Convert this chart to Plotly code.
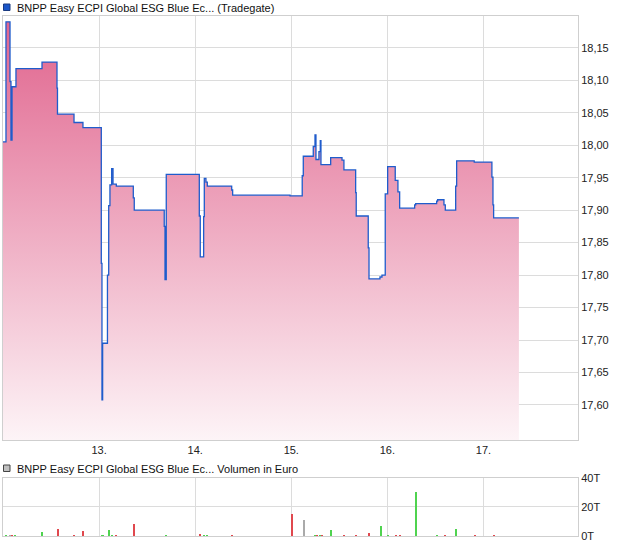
import plotly.graph_objects as go

# ---- price series (day-of-month as decimal, price in EUR), step line ----
price_t = [12.000, 12.031, 12.073, 12.083, 12.094, 12.135, 12.406, 12.562, 12.567,
           12.739, 12.832, 13.023, 13.030, 13.037, 13.087, 13.100, 13.113, 13.131,
           13.145, 13.179, 13.356, 13.366, 13.678, 13.686, 13.699, 14.043, 14.053,
           14.088, 14.095, 14.112, 14.126, 14.380, 14.390, 14.987, 15.114, 15.125,
           15.229, 15.247, 15.257, 15.288, 15.302, 15.309, 15.410, 15.528, 15.548,
           15.670, 15.676, 15.801, 15.809, 15.923, 15.944, 15.978, 16.003, 16.082,
           16.110, 16.128, 16.284, 16.295, 16.513, 16.523, 16.589, 16.603, 16.711,
           16.721, 16.904, 17.088, 17.099, 17.106, 17.369]
price_v = [18.005, 18.190, 18.098, 18.008, 18.090, 18.118, 18.128, 18.088, 18.048,
           18.035, 18.027, 17.818, 17.608, 17.695, 17.800, 17.907, 17.939, 17.964,
           17.940, 17.937, 17.919, 17.900, 17.875, 17.793, 17.955, 17.891, 17.828,
           17.890, 17.949, 17.943, 17.937, 17.931, 17.923, 17.922, 17.953, 17.983,
           17.998, 18.016, 17.978, 17.990, 18.007, 17.970, 17.981, 17.977, 17.962,
           17.927, 17.891, 17.842, 17.794, 17.797, 17.800, 17.925, 17.967, 17.946,
           17.928, 17.903, 17.908, 17.910, 17.914, 17.916, 17.908, 17.900, 17.937,
           17.976, 17.974, 17.951, 17.908, 17.888, 17.888]

# ---- volume series (EUR) ----
vol_t = [12.031, 12.073, 12.094, 12.125, 12.406, 12.569, 12.739, 12.832, 13.027,
         13.041, 13.100, 13.134, 13.173, 13.366, 13.696, 14.050, 14.092, 14.123,
         14.386, 15.004, 15.132, 15.244, 15.264, 15.302, 15.319, 15.416, 15.552,
         15.676, 15.812, 15.937, 16.003, 16.093, 16.134, 16.295, 16.519, 16.603,
         16.717, 16.915, 17.112]
vol_v = [1000, 700, 500, 600, 2700, 4800, 800, 3400, 800,
         600, 4100, 600, 1000, 8700, 700, 1400, 600, 500,
         700, 15100, 11000, 700, 500, 600, 1100, 4100, 700,
         700, 2000, 6900, 400, 600, 500, 30200, 400, 500,
         4800, 500, 500]
vol_dir = ["up", "flat", "down", "up", "up", "down", "down", "down", "up",
           "up", "up", "up", "down", "down", "up", "down", "up", "up",
           "down", "down", "flat", "up", "down", "up", "down", "up", "down",
           "down", "down", "up", "up", "down", "down", "up", "up", "down",
           "up", "down", "down"]

x_ticks = [13, 14, 15, 16, 17]
x_tick_labels = ["13.", "14.", "15.", "16.", "17."]
y_ticks = [17.60, 17.65, 17.70, 17.75, 17.80, 17.85, 17.90, 17.95, 18.00, 18.05, 18.10, 18.15]
vol_ticks = [0, 20000, 40000]
vol_tick_labels = ["0T", "20T", "40T"]

price_name = "BNPP Easy ECPI Global ESG Blue Ec... (Tradegate)"
vol_name = "BNPP Easy ECPI Global ESG Blue Ec... Volumen in Euro"

W, H = 620, 546
ML, MR, MT, MB = 3, 42, 16, 10
PW, PH = W - ML - MR, H - MT - MB


def px_x(px):
    return (px - ML) / PW


def px_y(py):
    return (H - MB - py) / PH


dir_colors = {"up": "#4fd34f", "down": "#e0484e", "flat": "#aaaaaa"}

fig = go.Figure()
fig.add_trace(go.Scatter(
    x=price_t, y=price_v, mode="lines",
    line=dict(color="#1f5ccc", width=1.3, shape="hv"),
    fill="tozeroy",
    fillgradient=dict(type="vertical",
                      colorscale=[[0, "#fdf4f7"], [1, "#e0628c"]],
                      start=17.546, stop=18.2),
    xaxis="x", yaxis="y", hoverinfo="skip", showlegend=False))

fig.add_trace(go.Bar(
    x=vol_t, y=vol_v, width=0.011,
    marker=dict(color=[dir_colors[d] for d in vol_dir], line=dict(width=0)),
    xaxis="x2", yaxis="y2", showlegend=False, hoverinfo="skip"))

grid = "#dcdcdc"
border = "#cfcfcf"
tickfont = dict(family="Liberation Sans, Arial, sans-serif", size=11, color="#222222")

common_x = dict(range=[12.0, 17.984], tickvals=x_ticks, ticktext=x_tick_labels,
                showgrid=True, gridcolor=grid, gridwidth=1, showline=True,
                linecolor=border, linewidth=1, mirror=True, ticks="",
                zeroline=False, tickfont=tickfont, fixedrange=True)

fig.update_layout(
    width=W, height=H,
    margin=dict(l=ML, r=MR, t=MT, b=MB),
    paper_bgcolor="white", plot_bgcolor="white",
    separators=",.",
    font=tickfont,
    xaxis=dict(domain=[0, 1], anchor="y", **common_x),
    xaxis2=dict(domain=[0, 1], anchor="y2", showticklabels=False, **common_x),
    yaxis=dict(domain=[px_y(440), 1], anchor="x", side="right",
               range=[17.546, 18.199], tickvals=y_ticks, tickformat=".2f",
               showgrid=True, gridcolor=grid, showline=True, linecolor=border,
               mirror=True, ticks="", zeroline=False, tickfont=tickfont,
               fixedrange=True),
    yaxis2=dict(domain=[0, px_y(477.7)], anchor="x2", side="right",
                range=[0, 40000], tickvals=vol_ticks, ticktext=vol_tick_labels,
                showgrid=True, gridcolor=grid, showline=True, linecolor=border,
                mirror=True, ticks="", zeroline=False, tickfont=tickfont,
                fixedrange=True),
    bargap=0,
)

# legend-like headers
fig.add_shape(type="rect", xref="paper", yref="paper",
              x0=px_x(3.5), x1=px_x(10), y0=px_y(10.5), y1=px_y(4),
              fillcolor="#1a56c8", line=dict(color="#1a3a80", width=1))
fig.add_annotation(text=price_name, xref="paper", yref="paper",
                   x=px_x(15), y=px_y(7.5), xanchor="left", yanchor="middle",
                   showarrow=False, font=dict(family="Liberation Sans, Arial, sans-serif", size=11, color="#111111"))
fig.add_shape(type="rect", xref="paper", yref="paper",
              x0=px_x(3.5), x1=px_x(10), y0=px_y(471.5), y1=px_y(465),
              fillcolor="#c0c0c0", line=dict(color="#444444", width=1))
fig.add_annotation(text=vol_name, xref="paper", yref="paper",
                   x=px_x(15), y=px_y(468.5), xanchor="left", yanchor="middle",
                   showarrow=False, font=dict(family="Liberation Sans, Arial, sans-serif", size=11, color="#111111"))

fig.write_html("out.html", config={"displayModeBar": False},
               post_script="document.body.style.margin='0';document.body.style.overflow='hidden';")
